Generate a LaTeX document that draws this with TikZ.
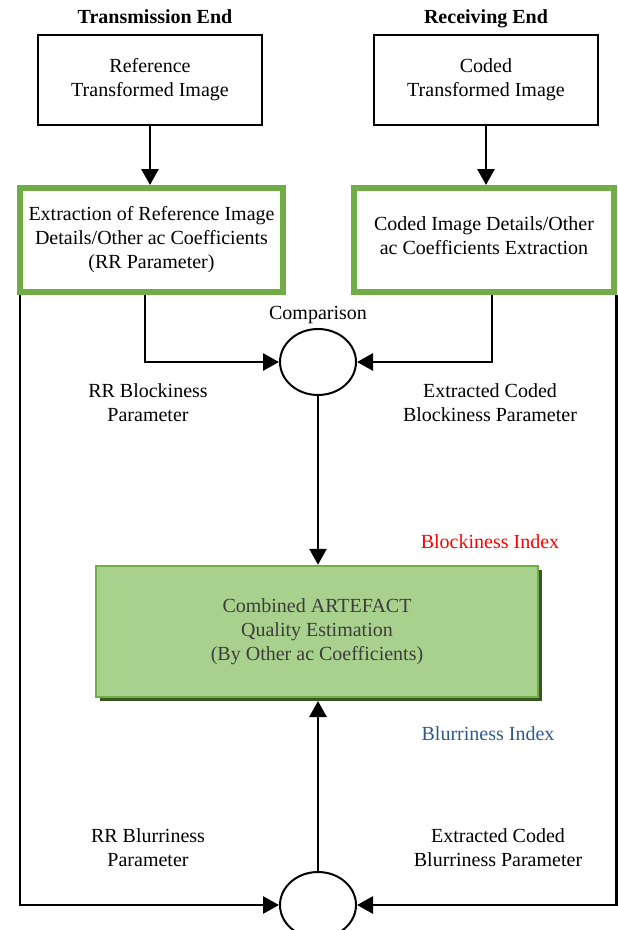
\documentclass[tikz,border=0pt]{standalone}
\usepackage{fontspec}
\setmainfont{Liberation Serif}
\usetikzlibrary{arrows.meta,shapes.geometric}
\definecolor{gborder}{RGB}{112,173,71}
\definecolor{gfill}{RGB}{169,209,142}
\definecolor{gshadow}{RGB}{56,87,35}
\definecolor{btext}{RGB}{46,89,138}
\definecolor{ctext}{RGB}{60,60,60}
\begin{document}
\begin{tikzpicture}[x=1pt,y=-1pt,
  every node/.style={font=\fontsize{20}{24}\selectfont, align=center, inner sep=0pt},
  oneline/.style={text height=14pt, text depth=4pt},
  whitebox/.style={draw=black, line width=2pt, minimum width=224pt, minimum height=90pt},
  greenbox/.style={draw=gborder, line width=6pt, fill=white, minimum height=104pt},
  combbox/.style={draw=gborder, line width=2.5pt, fill=gfill, text=ctext, minimum width=442pt, minimum height=131pt},
  cmp/.style={draw=black, line width=2pt, ellipse, minimum width=76pt, minimum height=66pt},
  arr/.style={line width=2.8pt, -{Triangle[length=16pt,width=17pt]}},
  head/.style={oneline, font=\fontsize{20}{24}\selectfont\bfseries}
]
\useasboundingbox (0,0) rectangle (618,930);
% headers
\node[head] (h1) at (155,18) {Transmission End};
\node[head] (h2) at (486,18) {Receiving End};
% top boxes
\node[whitebox] (ref) at (150,80) {Reference\\Transformed Image};
\node[whitebox] (cod) at (486,80) {Coded\\Transformed Image};
% green extraction boxes
\node[greenbox, minimum width=263pt] (ex1) at (151.5,240) {Extraction of Reference Image\\Details/Other ac Coefficients\\(RR Parameter)};
\node[greenbox, minimum width=260pt] (ex2) at (484,240) {};
\node (ex2t) at (484,235.5) {Coded Image Details/Other\\ac Coefficients Extraction};
% comparison circles
\node[cmp] (c1) at (318,362) {};
\node[oneline] (cmpl) at (318,314) {Comparison};
\node[cmp] (c2) at (318,905) {};
% combined box
\fill[gshadow] (100,570) rectangle (542,701);
\node[combbox] (comb) at (317,631.5) {Combined ARTEFACT\\Quality Estimation\\(By Other ac Coefficients)};
% labels
\node (l1) at (148,403) {RR Blockiness\\Parameter};
\node (l2) at (490,403) {Extracted Coded\\Blockiness Parameter};
\node[oneline, text=red] (l3) at (490,543) {Blockiness Index};
\node[oneline, text=btext] (l4) at (488,735) {Blurriness Index};
\node (l5) at (148,848) {RR Blurriness\\Parameter};
\node (l6) at (498,848) {Extracted Coded\\Blurriness Parameter};
% coordinates
\coordinate (p1) at (145,295);
\coordinate (p2) at (492,295);
\coordinate (q1) at (20,295);
\coordinate (q2) at (616.5,295);
\coordinate (sb) at (318,701);
% connectors
\draw[arr] (ref.south) -- (ex1.north -| ref.south);
\draw[arr] (cod.south) -- (ex2.north -| cod.south);
\draw[arr] (p1) |- (c1.west);
\draw[arr] (p2) |- (c1.east);
\draw[arr] (c1.south) -- (c1.south |- comb.north);
\draw[arr] (c2.north) -- (sb);
\draw[arr] (q1) |- (c2.west);
\draw[arr] (q2) |- (c2.east);
\end{tikzpicture}
\end{document}
